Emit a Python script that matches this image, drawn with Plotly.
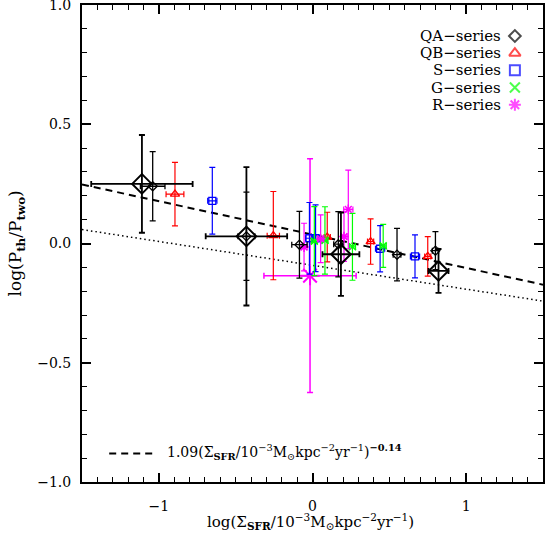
import math
import plotly.graph_objects as go

# ---------------- data ----------------
# QA-series, large diamonds
qa_big_x = [-1.11, -0.43, 0.185, 0.82]
qa_big_y = [0.25, 0.03, -0.045, -0.115]
qa_big_xerr = [0.33, 0.265, 0.12, 0.065]
qa_big_yerr = [0.205, 0.29, 0.175, 0.092]

# QA-series, small diamonds
qa_x = [-1.04, -0.43, -0.085, 0.168, 0.55, 0.80]
qa_y = [0.24, 0.03, -0.005, -0.003, -0.047, -0.03]
qa_xerr = [0.08, 0.055, 0.05, 0.03, 0.025, 0.02]
qa_yerr = [0.145, 0.185, 0.14, 0.137, 0.11, 0.08]

# QB-series
qb_x = [-0.895, -0.255, 0.096, 0.378, 0.75]
qb_y = [0.207, 0.033, 0.027, 0.008, -0.054]
qb_xerr = [0.058, 0.04, 0.02, 0.02, 0.02]
qb_yerr = [0.133, 0.185, 0.104, 0.095, 0.083]

# S-series
s_x = [-0.652, -0.02, 0.02, 0.44, 0.667]
s_y = [0.179, 0.022, 0.022, -0.022, -0.054]
s_xerr = [0.03, 0.025, 0.025, 0.03, 0.03]
s_yerr = [0.14, 0.15, 0.14, 0.097, 0.09]

# G-series
g_x = [0.012, 0.081, 0.26, 0.46]
g_y = [0.01, 0.013, -0.014, -0.01]
g_xerr = [0.02, 0.02, 0.02, 0.02]
g_yerr = [0.145, 0.141, 0.14, 0.09]

# R-series, large asterisk
r_big_x = [-0.016]
r_big_y = [-0.135]
r_big_xerr = [0.30]
r_big_yerr = [0.49]

# R-series, small asterisks
r_x = [-0.055, 0.053, 0.205, 0.233]
r_y = [-0.015, 0.02, 0.029, 0.143]
r_xerr = [0.02, 0.02, 0.02, 0.03]
r_yerr = [0.10, 0.10, 0.104, 0.165]

# model lines: log10(A) + B * x
fit_A, fit_B = 1.09, -0.14
dot_A, dot_B = 0.81, -0.10
line_x = [-1.5, 1.5]

legend_labels = ["QA\u2212series", "QB\u2212series", "S\u2212series", "G\u2212series", "R\u2212series"]
x_ticks = [-1, 0, 1]
y_ticks = [-1, -0.5, 0, 0.5, 1]

# ---------------- figure ----------------
FONT = "DejaVu Serif"
fig = go.Figure()


def add_series(x, y, xe, ye, color, symbol, size, lw, ethick, ewidth):
    fig.add_trace(go.Scatter(
        x=x, y=y, mode="markers",
        marker=dict(symbol=symbol, size=size, color=color,
                    line=dict(color=color, width=lw)),
        error_x=dict(type="data", array=xe, visible=True, color=color,
                     thickness=ethick, width=ewidth),
        error_y=dict(type="data", array=ye, visible=True, color=color,
                     thickness=ethick, width=ewidth),
        showlegend=False, hoverinfo="skip"))


# model lines
fig.add_trace(go.Scatter(
    x=line_x, y=[math.log10(fit_A) + fit_B * v for v in line_x],
    mode="lines", line=dict(color="black", width=2, dash="7px,5px"),
    showlegend=False, hoverinfo="skip"))
fig.add_trace(go.Scatter(
    x=line_x, y=[math.log10(dot_A) + dot_B * v for v in line_x],
    mode="lines", line=dict(color="black", width=1.5, dash="1.5px,3px"),
    showlegend=False, hoverinfo="skip"))

add_series(r_big_x, r_big_y, r_big_xerr, r_big_yerr, "#ff00ff", "asterisk-open", 16, 2, 1.5, 3)
add_series(qb_x, qb_y, qb_xerr, qb_yerr, "#ff0000", "triangle-up-open", 8, 1.3, 1.2, 3)
add_series(s_x, s_y, s_xerr, s_yerr, "#0000ff", "square-open", 7, 1.3, 1.2, 3)
add_series(g_x, g_y, g_xerr, g_yerr, "#00ff00", "x-thin-open", 7, 1.5, 1.2, 3)
add_series(r_x, r_y, r_xerr, r_yerr, "#ff00ff", "asterisk-open", 8, 1.5, 1.2, 3)
add_series(qa_x, qa_y, qa_xerr, qa_yerr, "#000000", "diamond-open", 7, 1.3, 1.3, 3)
add_series(qa_big_x, qa_big_y, qa_big_xerr, qa_big_yerr, "#000000", "diamond-open", 15, 2, 1.8, 3)

# legend keys on an overlay (0..1) axis
leg_colors = ["#000000", "#ff0000", "#0000ff", "#00ff00", "#ff00ff"]
leg_symbols = ["diamond-open", "triangle-up-open", "square-open", "x-thin-open", "asterisk-open"]
leg_y = [0.935, 0.899, 0.863, 0.827, 0.791]
fig.add_trace(go.Scatter(
    x=[0.939] * 5, y=leg_y, mode="markers", xaxis="x2", yaxis="y2",
    marker=dict(symbol=leg_symbols, size=[9, 10, 10, 10, 10], color=leg_colors,
                line=dict(color=leg_colors, width=2)),
    showlegend=False, hoverinfo="skip"))
fig.add_trace(go.Scatter(
    x=[0.059, 0.163], y=[0.060, 0.060], mode="lines", xaxis="x2", yaxis="y2",
    line=dict(color="black", width=2, dash="7px,5px"),
    showlegend=False, hoverinfo="skip"))

annotations = []
for lab, yy in zip(legend_labels, leg_y):
    annotations.append(dict(x=0.913, y=yy, xref="paper", yref="paper", text=lab,
                            showarrow=False, xanchor="right", yanchor="middle",
                            font=dict(family=FONT, size=15, color="black")))
annotations.append(dict(
    x=0.18, y=0.062, xref="paper", yref="paper", showarrow=False,
    xanchor="left", yanchor="middle",
    text="1.09(\u03a3<sub><b>SFR</b></sub>/10<sup>\u22123</sup>M<sub>\u2299</sub>kpc<sup>\u22122</sup>yr<sup>\u22121</sup>)<sup><b>\u22120.14</b></sup>",
    font=dict(family=FONT, size=14, color="black")))
# axis titles
annotations.append(dict(
    x=0.496, y=-0.082, xref="paper", yref="paper", showarrow=False,
    xanchor="center", yanchor="middle",
    text="log(\u03a3<sub><b>SFR</b></sub>/10<sup>\u22123</sup>M<sub>\u2299</sub>kpc<sup>\u22122</sup>yr<sup>\u22121</sup>)",
    font=dict(family=FONT, size=15, color="black")))
annotations.append(dict(
    x=-0.141, y=0.5, xref="paper", yref="paper", showarrow=False,
    xanchor="center", yanchor="middle", textangle=-90,
    text="log(P<sub><b>th</b></sub>/P<sub><b>two</b></sub>)",
    font=dict(family=FONT, size=17, color="black")))

axis_common = dict(
    showline=True, linecolor="black", linewidth=2, mirror="allticks",
    ticks="inside", ticklen=9, tickwidth=1.5, tickcolor="black",
    showgrid=False, zeroline=False, automargin=False,
    ticklabeloverflow="allow",
    tickfont=dict(family=FONT, size=14, color="black"),
)

fig.update_layout(
    width=558, height=533,
    margin=dict(l=82, r=15, t=5, b=51),
    plot_bgcolor="white", paper_bgcolor="white",
    font=dict(family=FONT, size=14, color="black"),
    xaxis=dict(range=[-1.5, 1.5], tickvals=x_ticks, ticklabelstandoff=10,
               minor=dict(dtick=0.1, ticklen=5, ticks="inside", tickcolor="black", tickwidth=1.2),
               **axis_common),
    yaxis=dict(range=[-1, 1], tickvals=y_ticks, tickformat=".1f", ticklabelstandoff=6,
               minor=dict(dtick=0.1, ticklen=5, ticks="inside", tickcolor="black", tickwidth=1.2),
               **axis_common),
    xaxis2=dict(overlaying="x", range=[0, 1], visible=False),
    yaxis2=dict(overlaying="y", range=[0, 1], visible=False),
    annotations=annotations,
)

fig.write_html("out.html", config={"displayModeBar": False},
               post_script="document.body.style.margin='0';document.body.style.padding='0';")
